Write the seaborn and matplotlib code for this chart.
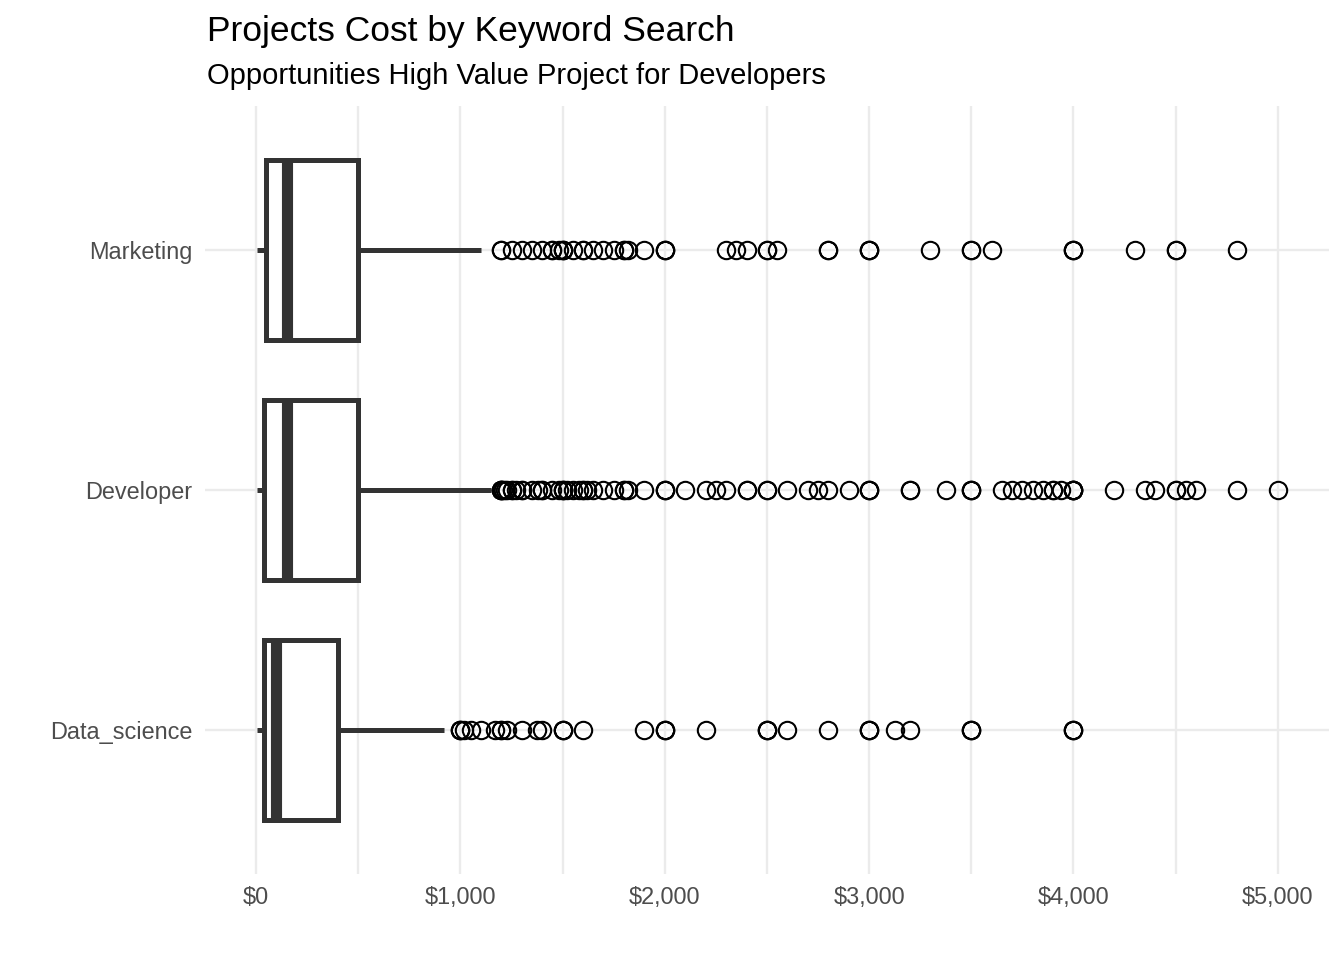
import numpy as np
import pandas as pd
import seaborn as sns
import matplotlib.pyplot as plt
from matplotlib.ticker import FuncFormatter, MultipleLocator

# project costs per keyword: bulk of the projects as a value/count table,
# large projects (the outliers) listed one by one
keywords = ["Marketing", "Developer", "Data_science"]

mkt_values = [5, 20, 30, 50, 100, 150, 200, 250, 300, 400, 500, 800, 1100]
mkt_counts = [12, 15, 15, 20, 25, 25, 10, 8, 6, 2, 13, 1, 1]
mkt_large = [1200, 1200, 1250, 1300, 1350, 1400, 1450, 1450, 1480, 1500, 1500, 1500,
             1550, 1600, 1600, 1650, 1700, 1750, 1800, 1800, 1820, 1900, 2000, 2000,
             2000, 2300, 2350, 2400, 2500, 2500, 2550, 2800, 2800, 3000, 3000, 3000,
             3300, 3500, 3500, 3600, 4000, 4000, 4000, 4300, 4500, 4500, 4800]

dev_values = [5, 20, 30, 40, 80, 100, 150, 200, 250, 300, 400, 500, 750, 1000, 1150]
dev_counts = [25, 30, 30, 30, 30, 30, 40, 25, 20, 20, 10, 25, 2, 1, 1]
dev_large = [1200, 1200, 1200, 1200, 1210, 1220, 1230, 1250, 1250, 1270, 1300, 1300,
             1350, 1380, 1400, 1400, 1450, 1480, 1500, 1500, 1500, 1520, 1550, 1580,
             1600, 1600, 1620, 1650, 1700, 1750, 1800, 1800, 1820, 1900,
             2000, 2000, 2000, 2100, 2200, 2250, 2300, 2400, 2400, 2500, 2500, 2600,
             2700, 2750, 2800, 2900, 3000, 3000, 3000,
             3200, 3200, 3375, 3500, 3500, 3500, 3650, 3700, 3750, 3800, 3850, 3900,
             3900, 3940, 4000, 4000, 4000, 4000, 4000, 4200, 4350, 4400, 4500, 4500,
             4550, 4600, 4800, 5000]

ds_values = [5, 20, 30, 40, 50, 75, 100, 150, 200, 300, 400, 920]
ds_counts = [10, 12, 12, 14, 10, 10, 20, 10, 8, 8, 7, 1]
ds_large = [1000, 1000, 1000, 1020, 1050, 1100, 1170, 1200, 1200, 1230, 1300, 1375,
            1400, 1500, 1500, 1500, 1600, 1900, 2000, 2000, 2000, 2200, 2500, 2500,
            2500, 2600, 2800, 3000, 3000, 3000, 3125, 3200, 3500, 3500, 3500, 4000,
            4000, 4000]

frames = []
for kw, vals, cnts, large in [("Marketing", mkt_values, mkt_counts, mkt_large),
                              ("Developer", dev_values, dev_counts, dev_large),
                              ("Data_science", ds_values, ds_counts, ds_large)]:
    cost = list(np.repeat(vals, cnts)) + large
    frames.append(pd.DataFrame({"keyword": kw, "cost": cost}))
df = pd.concat(frames, ignore_index=True)

sns.set_style("white")
plt.rcParams["font.family"] = ["Liberation Sans", "DejaVu Sans"]

fig = plt.figure(figsize=(13.44, 9.6), dpi=100)
ax = fig.add_axes([0.1525, 0.0896, 0.8363, 0.8])

sns.boxplot(data=df, x="cost", y="keyword", order=keywords, ax=ax,
            color="white", linecolor="#333333", linewidth=3.6, width=0.75,
            showcaps=False, whis=1.5,
            medianprops=dict(linewidth=8, color="#333333"),
            flierprops=dict(marker="o", markersize=12.5, markerfacecolor="none",
                            markeredgecolor="black", markeredgewidth=1.5))

ax.set_xlim(-250, 5250)
ax.set_ylim(2.6, -0.6)
ax.xaxis.set_major_locator(MultipleLocator(1000))
ax.xaxis.set_minor_locator(MultipleLocator(500))
ax.xaxis.set_major_formatter(FuncFormatter(lambda v, p: f"${v:,.0f}"))
ax.grid(True, which="major", color="#EBEBEB", linewidth=1.7, zorder=0)
ax.grid(True, which="minor", axis="x", color="#EBEBEB", linewidth=1.7, zorder=0)
ax.set_axisbelow(True)
for s in ax.spines.values():
    s.set_visible(False)
ax.tick_params(axis="both", which="both", length=0, labelsize=16.9,
               labelcolor="#4D4D4D")
ax.tick_params(axis="y", pad=9)
ax.tick_params(axis="x", pad=8.5)
ax.set_xlabel("")
ax.set_ylabel("")

fig.text(0.154, 0.957, "Projects Cost by Keyword Search", fontsize=25.5,
         va="baseline", ha="left", color="black")
fig.text(0.154, 0.913, "Opportunities High Value Project for Developers",
         fontsize=21, va="baseline", ha="left", color="black")

fig.savefig("out.png", dpi=100)
